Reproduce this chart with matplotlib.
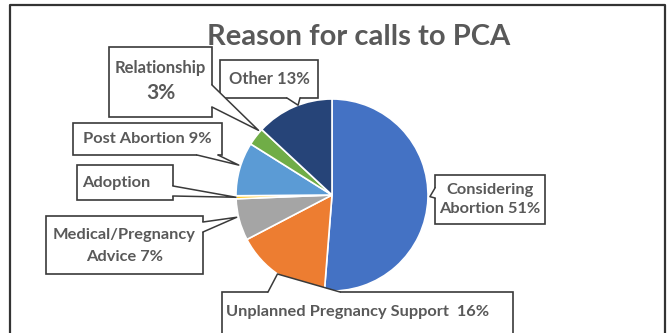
import matplotlib
matplotlib.use("Agg")
import matplotlib.pyplot as plt
from matplotlib.patches import Rectangle, Polygon
import numpy as np

# data, clockwise from 12 o'clock
reasons = ["Considering Abortion", "Unplanned Pregnancy Support", "Medical/Pregnancy Advice",
           "Adoption", "Post Abortion", "Relationship", "Other"]
shares = [51, 16, 7, 0.5, 9, 3, 13]
box_text = ["Considering\nAbortion 51%", "Unplanned Pregnancy Support  16%", "Medical/Pregnancy\nAdvice 7%",
            "Adoption", "Post Abortion 9%", "Relationship\n3%", "Other 13%"]
colors = ["#4472C4", "#ED7D31", "#A5A5A5", "#FFC000", "#5B9BD5", "#70AD47", "#264478"]

W, H = 671, 333
TXT = "#595959"
EDGE = "#3a3a3a"
FONT = "Lato"

def Y(y):
    # pixel rows from the top -> axes units
    return H - y

fig = plt.figure(figsize=(W / 100, H / 100), dpi=100)
ax = fig.add_axes([0, 0, 1, 1])

wedges, _ = ax.pie(shares, colors=colors, startangle=90, counterclock=False,
                   center=(332, Y(195)), radius=96, frame=True,
                   wedgeprops=dict(edgecolor="white", linewidth=1.2))
ax.set_xlim(0, W)
ax.set_ylim(0, H)
ax.set_aspect("auto")
ax.axis("off")

# outer frame (bottom edge cut off)
ax.plot([10, 10, 665, 665], [Y(340), Y(5), Y(5), Y(340)], color="#333333", lw=1.6)

ax.text(359, Y(37), "Reason for calls to PCA", ha="center", va="center",
        fontsize=21, fontweight="bold", color=TXT, family=FONT)

# box layout: (x0, y0, x1, y1) in pixels from top-left,
# pointer base (side, start, end), tip inside wedge (fraction of angle, fraction of radius)
layout = {
    "Considering Abortion": ((435, 175, 545, 224), ("left", 188, 198), (0.507, 1.02)),
    "Unplanned Pregnancy Support": ((222, 292, 513, 345), ("top", 268, 340), (0.48, 1.0)),
    "Medical/Pregnancy Advice": ((46, 216, 203, 274), ("right", 222, 232), (0.43, 1.02)),
    "Adoption": ((77, 165, 173, 200), ("right", 186, 196), (0.5, 1.0)),
    "Post Abortion": ((73, 123, 222, 155), ("bottom", 197, 218), (0.44, 1.02)),
    "Relationship": ((109, 47, 212, 117), ("right", 85, 107), (0.15, 1.02)),
    "Other": ((220, 60, 318, 98), ("bottom", 287, 300), (0.44, 1.0)),
}
FS = 11.8

for w, name, label in zip(wedges, reasons, box_text):
    (x0, y0, x1, y1), (side, b0, b1), (fa, fr) = layout[name]
    ang = np.deg2rad(w.theta1 + fa * (w.theta2 - w.theta1))
    cx, cy = w.center
    tip = (cx + fr * w.r * np.cos(ang), cy + fr * w.r * np.sin(ang))

    ax.add_patch(Rectangle((x0, Y(y1)), x1 - x0, y1 - y0, facecolor="white",
                           edgecolor=EDGE, lw=1.2, zorder=5))
    if side == "left":
        p0, p1 = (x0, Y(b0)), (x0, Y(b1))
        q0, q1 = (x0 + 2, Y(b0)), (x0 + 2, Y(b1))
    elif side == "right":
        p0, p1 = (x1, Y(b0)), (x1, Y(b1))
        q0, q1 = (x1 - 2, Y(b0)), (x1 - 2, Y(b1))
    elif side == "top":
        p0, p1 = (b0, Y(y0)), (b1, Y(y0))
        q0, q1 = (b0, Y(y0 + 2)), (b1, Y(y0 + 2))
    else:
        p0, p1 = (b0, Y(y1)), (b1, Y(y1))
        q0, q1 = (b0, Y(y1 - 2)), (b1, Y(y1 - 2))
    ax.add_patch(Polygon([q0, p0, tip, p1, q1], closed=True, facecolor="white",
                         edgecolor="none", zorder=6))
    ax.plot([p0[0], tip[0], p1[0]], [p0[1], tip[1], p1[1]], color=EDGE, lw=1.1, zorder=7)

    mx, my = (x0 + x1) / 2, (y0 + y1) / 2
    kw = dict(fontweight="bold", color=TXT, family=FONT, zorder=8)
    if name == "Relationship":
        ax.text(mx, Y(68), "Relationship", ha="center", va="center", fontsize=12, **kw)
        ax.text(mx, Y(93), "3%", ha="center", va="center", fontsize=15, **kw)
    elif name == "Other":
        ax.text(mx, Y(79), label, ha="center", va="center", fontsize=12, **kw)
    elif name == "Adoption":
        ax.text(x0 + 5, Y(my), label, ha="left", va="center", fontsize=FS, **kw)
    elif name == "Unplanned Pregnancy Support":
        ax.text(x0 + 4, Y(312), label, ha="left", va="center", fontsize=FS, **kw)
    elif name == "Medical/Pregnancy Advice":
        ax.text(mx, Y(246), label, ha="center", va="center", fontsize=FS,
                linespacing=1.65, **kw)
    else:
        ax.text(mx, Y(my), label, ha="center", va="center", fontsize=FS,
                linespacing=1.45, **kw)

fig.savefig("out.png", dpi=100)
